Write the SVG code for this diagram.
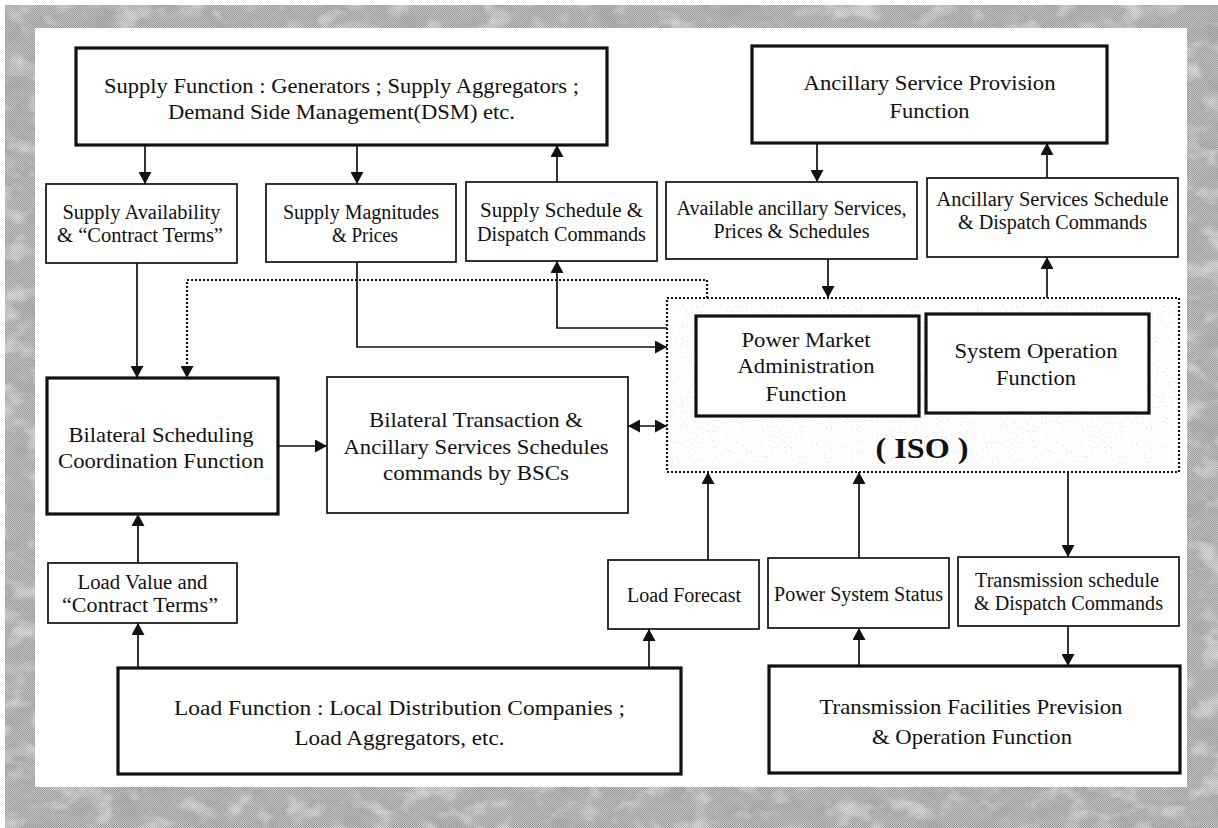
<svg xmlns="http://www.w3.org/2000/svg" width="1218" height="828" viewBox="0 0 1218 828">
  <defs>
    <style>
      .txt{font-family:"Liberation Serif","Times New Roman",serif;fill:#111;text-anchor:middle}
      .big{font-size:22px}
      .sm{font-size:20px}
      .iso{font-size:29px;font-weight:bold}
      .box{fill:#fff;stroke:#111;stroke-width:1.7}
      .heavy{fill:#fff;stroke:#111;stroke-width:3.2}
      .wire{fill:none;stroke:#111;stroke-width:1.7}
      .dots{fill:none;stroke:#111;stroke-width:2.2;stroke-dasharray:2 2}
    </style>
    <marker id="head" viewBox="0 0 12 13" refX="12" refY="6.5" markerWidth="12" markerHeight="13" markerUnits="userSpaceOnUse" orient="auto-start-reverse">
      <path d="M0,0 L12,6.5 L0,13 z" fill="#111"/>
    </marker>
    <!-- fine checker dither for the grey mount -->
    <pattern id="dither" width="2" height="2" patternUnits="userSpaceOnUse">
      <rect width="2" height="2" fill="#cbcbcb"/>
      <rect width="1" height="1" fill="#929292"/>
      <rect x="1" y="1" width="1" height="1" fill="#9a9a9a"/>
    </pattern>
    <clipPath id="frameClip">
      <path clip-rule="evenodd" d="M5,5 H1218 V828 H5 Z M35,28 V787 H1187 V28 Z"/>
    </clipPath>
    <!-- blotchy dark and light patches on the mount -->
    <filter id="mottle" x="0" y="0" width="1218" height="828" filterUnits="userSpaceOnUse">
      <feTurbulence type="fractalNoise" baseFrequency="0.035 0.05" numOctaves="3" seed="11" result="n"/>
      <feColorMatrix in="n" type="matrix" values="0 0 0 0 0.35  0 0 0 0 0.35  0 0 0 0 0.35  3.4 0 0 0 -1.5" result="dark"/>
      <feColorMatrix in="n" type="matrix" values="0 0 0 0 0.95  0 0 0 0 0.95  0 0 0 0 0.95  0 3.4 0 0 -1.75" result="light"/>
      <feMerge><feMergeNode in="dark"/><feMergeNode in="light"/></feMerge>
    </filter>
    <!-- faint speckle inside the ISO boundary -->
    <filter id="speck" x="669" y="300" width="508" height="170" filterUnits="userSpaceOnUse">
      <feTurbulence type="fractalNoise" baseFrequency="0.8" numOctaves="1" seed="3" result="f"/>
      <feColorMatrix in="f" type="matrix" values="0 0 0 0 0.55  0 0 0 0 0.55  0 0 0 0 0.55  0 0 0 9 -5.5"/>
    </filter>
  </defs>

  <rect width="1218" height="828" fill="#fff"/>

  <g id="frame">
    <path fill="url(#dither)" fill-rule="evenodd" d="M5,5 H1218 V828 H5 Z M35,28 V787 H1187 V28 Z"/>
    <g clip-path="url(#frameClip)">
      <rect x="0" y="0" width="1218" height="828" filter="url(#mottle)" opacity="0.4"/>
    </g>
  </g>

  <g id="connectors">
    <path class="wire" marker-end="url(#head)" d="M145,145 V184"/>
    <path class="wire" marker-end="url(#head)" d="M357,145 V184"/>
    <path class="wire" marker-end="url(#head)" d="M557,182 V145"/>
    <path class="wire" marker-end="url(#head)" d="M817,143 V182"/>
    <path class="wire" marker-end="url(#head)" d="M1047,178 V143"/>
    <path class="wire" marker-end="url(#head)" d="M828,259 V298"/>
    <path class="wire" marker-end="url(#head)" d="M1047,298 V257"/>
    <path class="wire" marker-end="url(#head)" d="M137,263 V378"/>
    <path class="dots" marker-end="url(#head)" d="M707,298 V280 H187 V378"/>
    <path class="wire" marker-end="url(#head)" d="M667,328 H557 V261"/>
    <path class="wire" marker-end="url(#head)" d="M357,262 V347 H667"/>
    <path class="wire" marker-end="url(#head)" d="M278,446 H327"/>
    <path class="wire" marker-start="url(#head)" marker-end="url(#head)" d="M628,426 H667"/>
    <path class="wire" marker-end="url(#head)" d="M138,563 V514"/>
    <path class="wire" marker-end="url(#head)" d="M138,668 V623"/>
    <path class="wire" marker-end="url(#head)" d="M708,560 V472"/>
    <path class="wire" marker-end="url(#head)" d="M649,668 V629"/>
    <path class="wire" marker-end="url(#head)" d="M859,558 V472"/>
    <path class="wire" marker-end="url(#head)" d="M859,666 V628"/>
    <path class="wire" marker-end="url(#head)" d="M1068,472 V557"/>
    <path class="wire" marker-end="url(#head)" d="M1068,626 V666"/>
  </g>

  <g id="supply-function">
    <rect class="heavy" x="76" y="48" width="531" height="97"/>
    <text class="txt big" x="341.5" y="93" textLength="475" lengthAdjust="spacingAndGlyphs">Supply Function : Generators ; Supply Aggregators ;</text>
    <text class="txt big" x="341.5" y="119" textLength="347" lengthAdjust="spacingAndGlyphs">Demand Side Management(DSM) etc.</text>
  </g>

  <g id="ancillary-provision">
    <rect class="heavy" x="752" y="46" width="355" height="97"/>
    <text class="txt big" x="929.5" y="90" textLength="252" lengthAdjust="spacingAndGlyphs">Ancillary Service Provision</text>
    <text class="txt big" x="929.5" y="118" textLength="80" lengthAdjust="spacingAndGlyphs">Function</text>
  </g>

  <g id="supply-availability">
    <rect class="box" x="46" y="184" width="191" height="79"/>
    <text class="txt sm" x="141.5" y="219" textLength="158" lengthAdjust="spacingAndGlyphs">Supply Availability</text>
    <text class="txt sm" x="140" y="242" textLength="166" lengthAdjust="spacingAndGlyphs">&amp; “Contract Terms”</text>
  </g>

  <g id="supply-magnitudes">
    <rect class="box" x="266" y="184" width="190" height="78"/>
    <text class="txt sm" x="361" y="219" textLength="156" lengthAdjust="spacingAndGlyphs">Supply Magnitudes</text>
    <text class="txt sm" x="365" y="242" textLength="66" lengthAdjust="spacingAndGlyphs">&amp; Prices</text>
  </g>

  <g id="supply-schedule">
    <rect class="box" x="466" y="182" width="191" height="79"/>
    <text class="txt sm" x="561.5" y="217" textLength="163" lengthAdjust="spacingAndGlyphs">Supply Schedule &amp;</text>
    <text class="txt sm" x="561.5" y="241" textLength="169" lengthAdjust="spacingAndGlyphs">Dispatch Commands</text>
  </g>

  <g id="available-ancillary">
    <rect class="box" x="666" y="182" width="251" height="77"/>
    <text class="txt sm" x="791.5" y="215" textLength="230" lengthAdjust="spacingAndGlyphs">Available ancillary Services,</text>
    <text class="txt sm" x="791.5" y="238" textLength="156" lengthAdjust="spacingAndGlyphs">Prices &amp; Schedules</text>
  </g>

  <g id="ancillary-schedule">
    <rect class="box" x="927" y="178" width="251" height="79"/>
    <text class="txt sm" x="1052.5" y="206" textLength="232" lengthAdjust="spacingAndGlyphs">Ancillary Services Schedule</text>
    <text class="txt sm" x="1052.5" y="229" textLength="189" lengthAdjust="spacingAndGlyphs">&amp; Dispatch Commands</text>
  </g>

  <g id="bilateral-scheduling">
    <rect class="heavy" x="47" y="378" width="231" height="136"/>
    <text class="txt big" x="161" y="442" textLength="185" lengthAdjust="spacingAndGlyphs">Bilateral Scheduling</text>
    <text class="txt big" x="161" y="468" textLength="206" lengthAdjust="spacingAndGlyphs">Coordination Function</text>
  </g>

  <g id="bilateral-transaction">
    <rect class="box" x="327" y="377" width="301" height="136"/>
    <text class="txt big" x="476" y="427" textLength="214" lengthAdjust="spacingAndGlyphs">Bilateral Transaction &amp;</text>
    <text class="txt big" x="476" y="454" textLength="265" lengthAdjust="spacingAndGlyphs">Ancillary Services Schedules</text>
    <text class="txt big" x="476" y="480" textLength="186" lengthAdjust="spacingAndGlyphs">commands by BSCs</text>
  </g>

  <g id="iso">
    <rect x="669" y="300" width="508" height="170" filter="url(#speck)" opacity="0.4"/>
    <rect class="dots" x="667" y="298" width="512" height="174"/>
    <text class="txt iso" x="922" y="458" textLength="93" lengthAdjust="spacingAndGlyphs">( ISO )</text>
    <g id="power-market-administration">
      <rect class="heavy" x="696" y="316" width="223" height="100"/>
      <text class="txt big" x="806" y="347" textLength="129" lengthAdjust="spacingAndGlyphs">Power Market</text>
      <text class="txt big" x="806" y="373" textLength="137" lengthAdjust="spacingAndGlyphs">Administration</text>
      <text class="txt big" x="806" y="401" textLength="81" lengthAdjust="spacingAndGlyphs">Function</text>
    </g>
    <g id="system-operation">
      <rect class="heavy" x="926" y="314" width="223" height="99"/>
      <text class="txt big" x="1036" y="358" textLength="163" lengthAdjust="spacingAndGlyphs">System Operation</text>
      <text class="txt big" x="1036" y="385" textLength="80" lengthAdjust="spacingAndGlyphs">Function</text>
    </g>
  </g>

  <g id="load-value">
    <rect class="box" x="48" y="563" width="189" height="60"/>
    <text class="txt sm" x="142.5" y="589" textLength="130" lengthAdjust="spacingAndGlyphs">Load Value and</text>
    <text class="txt sm" x="140" y="612" textLength="156" lengthAdjust="spacingAndGlyphs">“Contract Terms”</text>
  </g>

  <g id="load-forecast">
    <rect class="box" x="608" y="560" width="151" height="69"/>
    <text class="txt sm" x="684" y="602" textLength="114" lengthAdjust="spacingAndGlyphs">Load Forecast</text>
  </g>

  <g id="power-system-status">
    <rect class="box" x="768" y="558" width="181" height="70"/>
    <text class="txt sm" x="858.5" y="601" textLength="169" lengthAdjust="spacingAndGlyphs">Power System Status</text>
  </g>

  <g id="transmission-schedule">
    <rect class="box" x="958" y="557" width="221" height="69"/>
    <text class="txt sm" x="1067" y="587" textLength="184" lengthAdjust="spacingAndGlyphs">Transmission schedule</text>
    <text class="txt sm" x="1068.5" y="610" textLength="189" lengthAdjust="spacingAndGlyphs">&amp; Dispatch Commands</text>
  </g>

  <g id="load-function">
    <rect class="heavy" x="118" y="668" width="563" height="106"/>
    <text class="txt big" x="399.5" y="715" textLength="451" lengthAdjust="spacingAndGlyphs">Load Function : Local Distribution Companies ;</text>
    <text class="txt big" x="399.5" y="745" textLength="210" lengthAdjust="spacingAndGlyphs">Load Aggregators, etc.</text>
  </g>

  <g id="transmission-facilities">
    <rect class="heavy" x="769" y="666" width="411" height="107"/>
    <text class="txt big" x="971" y="714" textLength="303" lengthAdjust="spacingAndGlyphs">Transmission Facilities Prevision</text>
    <text class="txt big" x="972" y="744" textLength="200" lengthAdjust="spacingAndGlyphs">&amp; Operation Function</text>
  </g>
</svg>
